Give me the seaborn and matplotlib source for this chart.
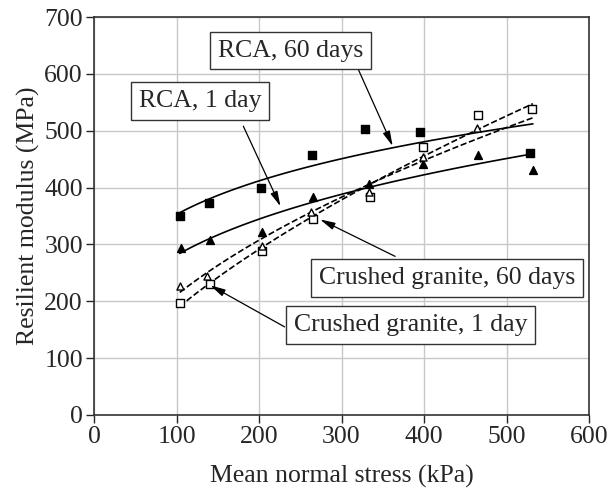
import numpy as np
import pandas as pd
import matplotlib
matplotlib.use('Agg')
import matplotlib.pyplot as plt
import seaborn as sns

# values
rca60_x = [104, 139, 202, 264, 329, 395, 529]
rca60_y = [350, 372, 400, 458, 503, 498, 461]
rca1_x = [106, 141, 204, 266, 333, 399, 465, 532]
rca1_y = [293, 308, 322, 384, 407, 441, 458, 431]
cg60_x = [104, 141, 204, 266, 334, 399, 465, 531]
cg60_y = [197, 231, 289, 344, 384, 471, 527, 539]
cg1_x = [104, 137, 204, 263, 333, 399, 464]
cg1_y = [227, 244, 297, 357, 392, 454, 504]

x_ticks = [0, 100, 200, 300, 400, 500, 600]
y_ticks = [0, 100, 200, 300, 400, 500, 600, 700]

sns.set_style('ticks')
plt.rcParams['font.family'] = ['Liberation Serif', 'DejaVu Serif']

fig = plt.figure(figsize=(6.08, 5.01), dpi=100)
ax = fig.add_axes([0.1546, 0.1717, 0.8142, 0.7943])

series = [
    (rca60_x, rca60_y, 's', 'black', '-'),
    (rca1_x, rca1_y, '^', 'black', '-'),
    (cg60_x, cg60_y, 's', 'white', '--'),
    (cg1_x, cg1_y, '^', 'white', '--'),
]

# trend lines are drawn over the whole loading range
p_lo = min(min(s[0]) for s in series)
p_hi = max(max(s[0]) for s in series)

for xs, ys, mk, fc, ls in series:
    df = pd.DataFrame({'p': xs, 'mr': ys})
    # power-law trend line  Mr = k * p^n
    n, lk = np.polyfit(np.log(df.p), np.log(df.mr), 1)
    xx = np.linspace(p_lo, p_hi, 100)
    fit = pd.DataFrame({'p': xx, 'mr': np.exp(lk) * xx ** n})
    sns.lineplot(data=fit, x='p', y='mr', ax=ax, color='black', lw=1.2,
                 linestyle=ls, zorder=2)
    size = 32 if fc == 'black' else 26
    sns.scatterplot(data=df, x='p', y='mr', ax=ax, marker=mk, s=size,
                    color=fc, edgecolor='black', linewidth=1.0, zorder=3)

ax.set_xlim(0, 600)
ax.set_ylim(0, 700)
ax.set_xticks(x_ticks)
ax.set_yticks(y_ticks)
ax.grid(True, color='#c8c8c8', lw=1.0, zorder=0)
ax.set_axisbelow(True)
for s in ax.spines.values():
    s.set_linewidth(1.2)
    s.set_color('#333333')
ax.tick_params(direction='out', length=6, width=1.0, labelsize=18.5, pad=2)
ax.set_xlabel('Mean normal stress (kPa)', fontsize=18.5, labelpad=12)
ax.set_ylabel('Resilient modulus (MPa)', fontsize=18.5, labelpad=3)

box = dict(boxstyle='square,pad=0.3', fc='white', ec='#333333', lw=1.0)
arrow = dict(arrowstyle='-|>,head_length=0.9,head_width=0.22', color='black',
             lw=0.9, shrinkA=0, shrinkB=0)

labels = [
    ('RCA, 60 days', (238, 641), (320, 609), (362, 473)),
    ('RCA, 1 day', (129, 552), (181, 508), (226, 367)),
    ('Crushed granite, 60 days', (428, 241), (365, 279), (274, 344)),
    ('Crushed granite, 1 day', (384, 158), (231, 155), (141, 228)),
]
for txt, pos, tail, head in labels:
    ax.annotate('', xy=head, xytext=tail, arrowprops=arrow, zorder=4)
    ax.text(pos[0], pos[1], txt, fontsize=18.5, ha='center', va='center',
            bbox=box, zorder=5)

fig.savefig('out.png', dpi=100)
